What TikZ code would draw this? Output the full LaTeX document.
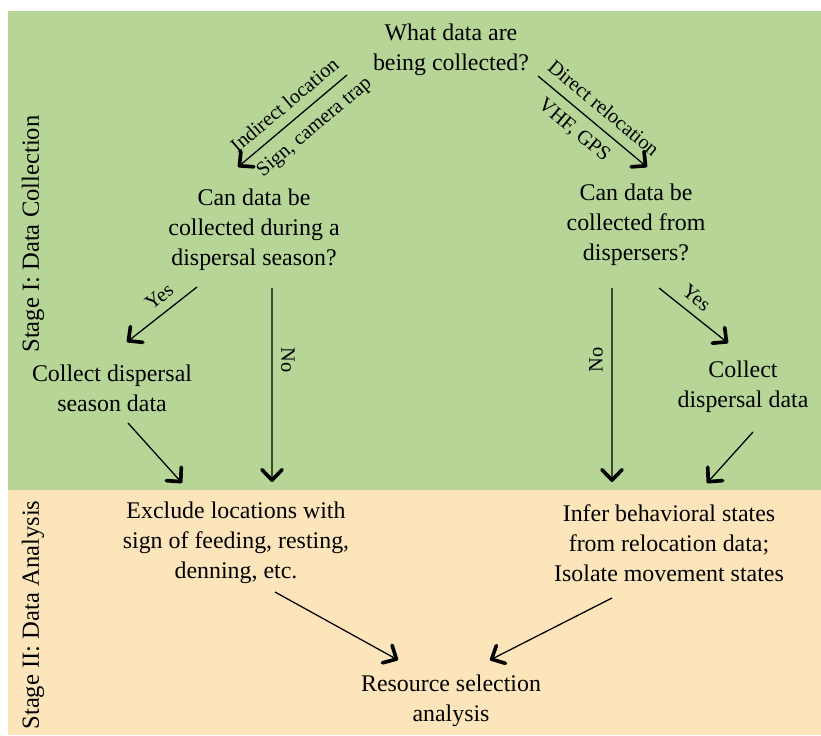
\documentclass[tikz,border=0pt]{standalone}
\usepackage{fontspec}
\setmainfont{Liberation Serif}
\usepackage{tikz}
\usetikzlibrary{arrows.meta,positioning,calc}
\definecolor{stagegreen}{HTML}{B6D597}
\definecolor{stageorange}{HTML}{FDE5BB}

\begin{document}
\begin{tikzpicture}[every node/.style={align=center,inner sep=1pt},
  txt/.style={font=\fontsize{17}{21.3}\selectfont},
  lbl/.style={font=\fontsize{14.5}{16}\selectfont,inner sep=1pt},
  stage/.style={font=\fontsize{17.5}{20}\selectfont,rotate=90},
  arr/.style={-{Straight Barb[length=2.6mm,width=5mm,line width=2.6pt,round]},line width=0.9pt}]
\useasboundingbox (0,0) rectangle (20.525,18.375);
\fill[stagegreen] (0.2,6.125) rectangle (20.525,18.1);
\fill[stageorange] (0.2,0) rectangle (20.525,6.125);
\node[stage] (s1) at (0.825,12.525) {Stage I: Data Collection};
\node[stage] (s2) at (0.825,3.0) {Stage II: Data Analysis};
% questions
\node[txt] (what) at (11.275,17.125) {What data are\\being collected?};
\node[txt] (season) at (6.35,12.625) {Can data be\\collected during a\\dispersal season?};
\node[txt] (disp) at (15.9,12.75) {Can data be\\collected from\\dispersers?};
% collection
\node[txt] (colseason) at (2.8,8.675) {Collect dispersal\\season data};
\node[txt] (coldisp) at (18.575,8.7) {Collect\\dispersal data};
% analysis
\node[txt] (exclude) at (5.9,4.8) {Exclude locations with\\sign of feeding, resting,\\denning, etc.};
\node[txt] (infer) at (16.725,4.8) {Infer behavioral states\\from relocation data;\\Isolate movement states};
\node[txt] (rsa) at (11.275,0.85) {Resource selection\\analysis};
% connectors
\draw[arr] ($(what)+(-2.6,-0.625)$) -- node[lbl,pos=0.47,sloped,above=6pt] {Indirect location} node[lbl,pos=0.41,sloped,below=6pt] {Sign, camera trap} ($(season)+(-0.4,1.575)$);
\draw[arr] ($(what)+(2.175,-0.65)$) -- node[lbl,pos=0.5,sloped,above=6pt] {Direct relocation} node[lbl,pos=0.44,sloped,below=6pt] {VHF, GPS} ($(disp)+(0.275,1.45)$);
\draw[arr] ($(season)+(-1.425,-1.425)$) -- node[lbl,pos=0.4,sloped,above=5pt] {Yes} ($(colseason)+(0.375,1.15)$);
\draw[arr] ($(season)+(0.45,-1.45)$) -- node[lbl,pos=0.37,rotate=-90,anchor=south,yshift=5pt] {No} ($(exclude)+(0.9,1.525)$);
\draw[arr] ($(colseason)+(0.4,-0.875)$) -- ($(exclude)+(-1.35,1.5)$);
\draw[arr] ($(disp)+(-0.6,-1.575)$) -- node[lbl,pos=0.37,rotate=90,anchor=south,yshift=5pt] {No} ($(infer)+(-1.425,1.525)$);
\draw[arr] ($(disp)+(0.575,-1.575)$) -- node[lbl,pos=0.4,sloped,above=5pt] {Yes} ($(coldisp)+(-0.375,1.1)$);
\draw[arr] ($(coldisp)+(0.25,-1.125)$) -- ($(infer)+(0.95,1.5)$);
\draw[arr] ($(exclude)+(0.975,-1.225)$) -- ($(rsa)+(-1.325,1.025)$);
\draw[arr] ($(infer)+(-1.425,-1.375)$) -- ($(rsa)+(0.975,1.025)$);
\end{tikzpicture}
\end{document}
